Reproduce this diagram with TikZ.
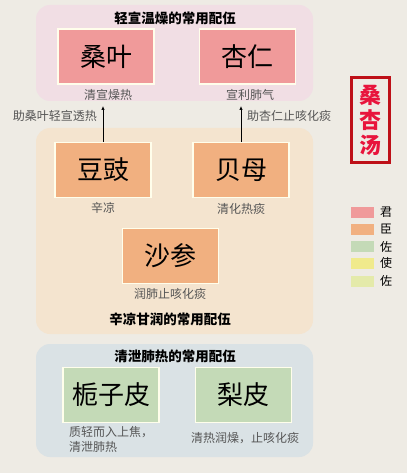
\documentclass[tikz,border=0pt]{standalone}
\usepackage{fontspec}
\setmainfont{Noto Sans CJK SC}
\usepackage{tikz}
\usetikzlibrary{arrows.meta}
\tikzset{>={Latex[width=1.2mm,length=1.4mm]}}

\definecolor{bgcol}{RGB}{238,235,228}
\definecolor{grpjun}{RGB}{241,222,228}
\definecolor{grpchen}{RGB}{244,228,207}
\definecolor{grpzuo}{RGB}{218,226,229}
\definecolor{jun}{RGB}{240,154,154}
\definecolor{chen}{RGB}{241,176,128}
\definecolor{zuo}{RGB}{196,218,183}
\definecolor{shi}{RGB}{240,234,140}
\definecolor{zuob}{RGB}{228,234,170}
\definecolor{titlered}{RGB}{232,20,60}
\definecolor{framered}{RGB}{190,16,24}
\definecolor{note}{RGB}{85,85,85}

\tikzset{
  group/.style={rounded corners=14pt},
  herb/.style={draw=white!92!yellow, line width=1.2pt, minimum width=96pt, minimum height=55pt,
    font=\fontsize{26}{28}\selectfont},
  grouptitle/.style={font=\fontsize{13.5}{16}\selectfont\bfseries},
  effect/.style={text=note, font=\fontsize{12}{15}\selectfont, inner sep=1pt},
  swatch/.style={minimum width=23pt, minimum height=11pt, inner sep=0pt},
  legend/.style={font=\fontsize{12}{14}\selectfont, anchor=west, inner sep=0pt},
}

\begin{document}
\begin{tikzpicture}[x=1pt, y=-1pt]
    \useasboundingbox (0,0) rectangle (407,473);
    \fill[bgcol] (0,0) rectangle (407,473);

    % groups
    \fill[grpjun, group] (36,5) rectangle (313,101);
    \fill[grpchen, group] (36,128) rectangle (313,334);
    \fill[grpzuo, group] (36,344) rectangle (313,457);

    % jun
    \node[grouptitle] (t-jun) at (175,18) {轻宣温燥的常用配伍};
    \node[herb, fill=jun] (sangye) at (106,56.5) {桑叶};
    \node[herb, fill=jun] (xingren) at (247.5,56.5) {杏仁};
    \node[effect] (e-sangye) at (108,95) {清宣燥热};
    \node[effect] (e-xingren) at (250,95) {宣利肺气};

    % chen
    \node[herb, fill=chen] (douchi) at (103,170) {豆豉};
    \node[herb, fill=chen] (beimu) at (241,170) {贝母};
    \node[herb, fill=chen] (shashen) at (170.5,256) {沙参};
    \node[effect] (e-douchi) at (103,208) {辛凉};
    \node[effect] (e-beimu) at (241,209) {清化热痰};
    \node[effect] (e-shashen) at (170,294) {润肺止咳化痰};
    \node[grouptitle] (t-chen) at (170,319) {辛凉甘润的常用配伍};

    \coordinate (up-douchi) at (103,106);
    \coordinate (up-beimu) at (241,106);
    \draw[->, line width=0.7pt] (douchi) -- (up-douchi);
    \draw[->, line width=0.7pt] (beimu) -- (up-beimu);
    \node[effect, anchor=east] (a-douchi) at (98,116) {助桑叶轻宣透热};
    \node[effect, anchor=west] (a-beimu) at (246,116) {助杏仁止咳化痰};

    % zuo
    \node[grouptitle] (t-zuo) at (175,356) {清泄肺热的常用配伍};
    \node[herb, fill=zuo] (zhizipi) at (111,395) {栀子皮};
    \node[herb, fill=zuo] (lipi) at (243.5,395) {梨皮};
    \node[effect, align=left, anchor=north west] (e-zhizipi) at (68,425) {质轻而入上焦，\\清泄肺热};
    \node[effect] (e-lipi) at (245,438) {清热润燥，止咳化痰};

    % formula name
    \node[draw=framered, line width=2.2pt, text=titlered, align=center, inner sep=3pt,
      minimum width=38pt, minimum height=85pt, font=\fontsize{22}{25}\selectfont\bfseries] (fang) at (370.5,120) {桑\\杏\\汤};

    % legend
    \node[swatch, fill=jun] (s-jun) at (362.5,212.5) {};
    \node[swatch, fill=chen] (s-chen) at (362.5,229) {};
    \node[swatch, fill=zuo] (s-zuo) at (362.5,246.5) {};
    \node[swatch, fill=shi] (s-shi) at (362.5,263) {};
    \node[swatch, fill=zuob] (s-zuob) at (362.5,281) {};
    \node[legend] (l-jun) at (380,212.5) {君};
    \node[legend] (l-chen) at (380,229) {臣};
    \node[legend] (l-zuo) at (380,246.5) {佐};
    \node[legend] (l-shi) at (380,263) {使};
    \node[legend] (l-zuob) at (380,281) {佐};
\end{tikzpicture}
\end{document}
